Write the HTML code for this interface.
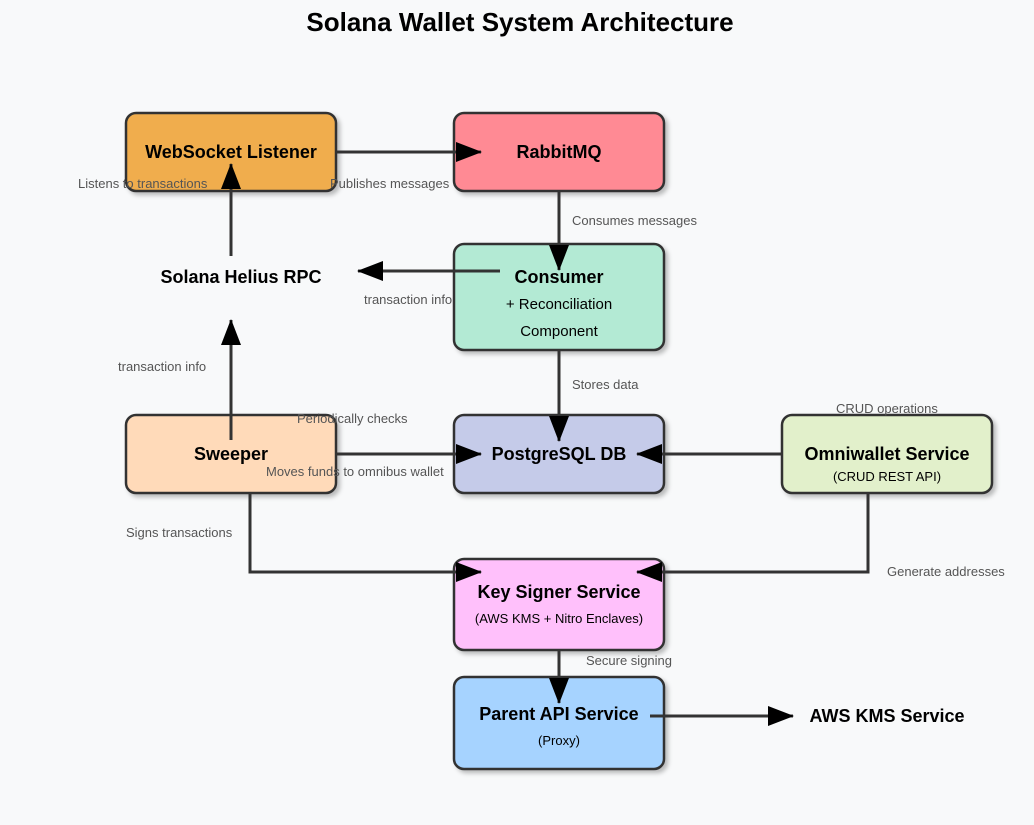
<!DOCTYPE html>
<html><head><meta charset="utf-8"><style>
html,body{margin:0;padding:0;background:#f8f9fa;}
svg{display:block;font-family:"Liberation Sans",Arial,sans-serif;}
.b{stroke:#333;stroke-width:2.5;}
.t{font-weight:bold;font-size:18px;fill:#000;text-anchor:middle;}
.s{font-size:13px;fill:#000;text-anchor:middle;}
.s2{font-size:15px;fill:#000;text-anchor:middle;}
.l{font-size:13px;fill:#555;}
.a{stroke:#333;stroke-width:3;fill:none;}
</style></head><body>
<svg width="1034" height="825" viewBox="0 0 1034 825">
<defs>
<filter id="sh" x="-10%" y="-10%" width="130%" height="140%"><feDropShadow dx="3" dy="3" stdDeviation="2" flood-color="#000" flood-opacity="0.25"/></filter>
<marker id="m" markerWidth="26" markerHeight="20" refX="25" refY="10" orient="auto" markerUnits="userSpaceOnUse"><path d="M0,0 L26,10 L0,20 Z" fill="#000"/></marker>
</defs>
<rect width="1034" height="825" fill="#f8f9fa"/>
<text x="520" y="31" text-anchor="middle" font-weight="bold" font-size="26" fill="#000">Solana Wallet System Architecture</text>
<g filter="url(#sh)">
<rect class="b" x="126" y="113" width="210" height="78" rx="10" fill="#f0ad4e"/>
<rect class="b" x="454" y="113" width="210" height="78" rx="10" fill="#ff8a94"/>
<rect class="b" x="454" y="244" width="210" height="106" rx="10" fill="#b3ead4"/>
<rect class="b" x="454" y="415" width="210" height="78" rx="10" fill="#c5cbe9"/>
<rect class="b" x="782" y="415" width="210" height="78" rx="10" fill="#e2f0cb"/>
<rect class="b" x="126" y="415" width="210" height="78" rx="10" fill="#ffdab9"/>
<rect class="b" x="454" y="559" width="210" height="91" rx="10" fill="#ffc0fb"/>
<rect class="b" x="454" y="677" width="210" height="92" rx="10" fill="#a6d3ff"/>
</g>
<text class="t" x="231" y="158">WebSocket Listener</text>
<text class="t" x="559" y="158">RabbitMQ</text>
<text class="t" x="559" y="283">Consumer</text>
<text class="s2" x="559" y="309">+ Reconciliation</text>
<text class="s2" x="559" y="336">Component</text>
<text class="t" x="559" y="460">PostgreSQL DB</text>
<text class="t" x="887" y="460">Omniwallet Service</text>
<text class="s" x="887" y="481">(CRUD REST API)</text>
<text class="t" x="231" y="460">Sweeper</text>
<text class="t" x="559" y="598">Key Signer Service</text>
<text class="s" x="559" y="623">(AWS KMS + Nitro Enclaves)</text>
<text class="t" x="559" y="720">Parent API Service</text>
<text class="s" x="559" y="745">(Proxy)</text>
<text class="t" x="241" y="283">Solana Helius RPC</text>
<text class="t" x="887" y="722">AWS KMS Service</text>
<g marker-end="url(#m)">
<line class="a" x1="336" y1="152" x2="481" y2="152"/>
<line class="a" x1="559" y1="191" x2="559" y2="270"/>
<line class="a" x1="500" y1="271" x2="358" y2="271"/>
<line class="a" x1="231" y1="256" x2="231" y2="164"/>
<line class="a" x1="231" y1="440" x2="231" y2="320"/>
<line class="a" x1="559" y1="350" x2="559" y2="441"/>
<line class="a" x1="336" y1="454" x2="481" y2="454"/>
<line class="a" x1="782" y1="454" x2="637" y2="454"/>
<polyline class="a" points="250,493 250,572 481,572"/>
<polyline class="a" points="868,493 868,572 637,572"/>
<line class="a" x1="559" y1="650" x2="559" y2="703"/>
<line class="a" x1="650" y1="716" x2="793" y2="716"/>
</g>
<text class="l" x="78" y="188">Listens to transactions</text>
<text class="l" x="330" y="188">Publishes messages</text>
<text class="l" x="572" y="225">Consumes messages</text>
<text class="l" x="364" y="304">transaction info</text>
<text class="l" x="118" y="371">transaction info</text>
<text class="l" x="572" y="389">Stores data</text>
<text class="l" x="297" y="423">Periodically checks</text>
<text class="l" x="836" y="413">CRUD operations</text>
<text class="l" x="266" y="476">Moves funds to omnibus wallet</text>
<text class="l" x="126" y="537">Signs transactions</text>
<text class="l" x="887" y="576">Generate addresses</text>
<text class="l" x="586" y="665">Secure signing</text>
</svg>
</body></html>
